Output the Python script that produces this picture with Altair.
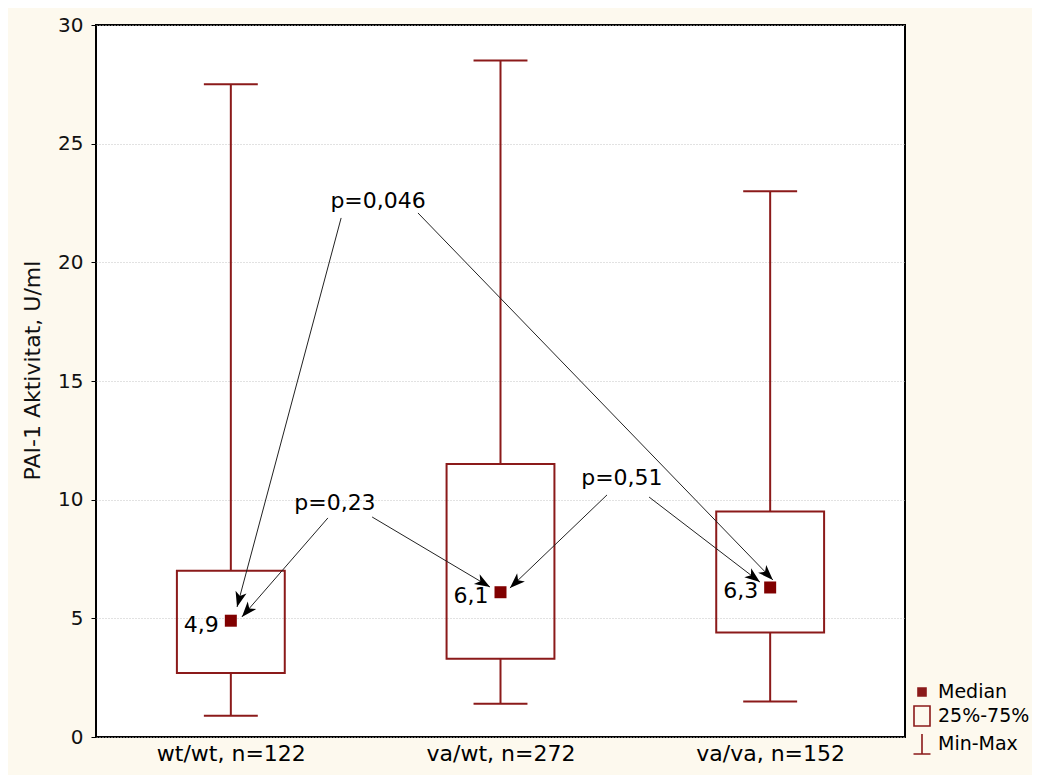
import math
import altair as alt
import pandas as pd

# ---------------- data ----------------
groups = ["wt/wt, n=122", "va/wt, n=272", "va/va, n=152"]
pos = [0.5, 1.5, 2.5]
medians = [4.9, 6.1, 6.3]
q1 = [2.7, 3.3, 4.4]
q3 = [7.0, 11.5, 9.5]
mins = [0.9, 1.4, 1.5]
maxs = [27.5, 28.5, 23.0]

p_labels = ["p=0,046", "p=0,23", "p=0,51"]
p_x = [1.046, 0.886, 1.950]
p_y = [22.6, 9.86, 10.91]

arrow_x0 = [0.909, 1.194, 0.860, 1.024, 1.895, 2.051]
arrow_y0 = [21.87, 22.08, 9.23, 9.27, 10.20, 10.11]
arrow_x1 = [0.523, 2.510, 0.541, 1.461, 1.535, 2.462]
arrow_y1 = [5.48, 6.62, 5.06, 6.32, 6.28, 6.53]

legend_items = ["Median", "25%-75%", "Min-Max"]

# ---------------- style ----------------
W, H = 809, 712
RED = "#8B1A1A"
MED = "#800000"
FONT = "DejaVu Sans"
BOX_HALF = 0.2
CAP_HALF = 0.1

xscale = alt.Scale(domain=[0, 3], nice=False, zero=False)
yscale = alt.Scale(domain=[0, 30], nice=False)

label_arr = "[" + ",".join("'" + g + "'" for g in groups) + "]"
xaxis = alt.Axis(values=pos, labelExpr=label_arr + "[floor(datum.value)]", title=None,
                 grid=False, ticks=False, domain=False, labelFontSize=22, labelPadding=6,
                 labelColor="black", labelFont=FONT)
yaxis = alt.Axis(values=[0, 5, 10, 15, 20, 25, 30], title="PAI-1 Aktivitat, U/ml", grid=True,
                 gridDash=[1, 2], gridColor="#c4c4c4", gridWidth=1, tickSize=5, tickColor="black",
                 domain=False, labelFontSize=20, labelPadding=8, labelColor="#111", labelFont=FONT,
                 titleFontSize=22, titleFontWeight="normal", titlePadding=13, titleFont=FONT,
                 titleColor="#111", titleY=345)


def X(f, **kw):
    return alt.X(f, type="quantitative", scale=xscale, axis=xaxis, **kw)


def Y(f, **kw):
    return alt.Y(f, type="quantitative", scale=yscale, axis=yaxis, **kw)


box_df = pd.DataFrame({
    "group": groups, "pos": pos, "med": medians, "q1": q1, "q3": q3, "mn": mins, "mx": maxs,
})
box_df["xl"] = box_df["pos"] - BOX_HALF
box_df["xr"] = box_df["pos"] + BOX_HALF
box_df["cl"] = box_df["pos"] - CAP_HALF
box_df["cr"] = box_df["pos"] + CAP_HALF
box_df["lab"] = [f"{m:.1f}".replace(".", ",") for m in medians]

boxes = alt.Chart(box_df).mark_rect(fillOpacity=0, stroke=RED, strokeWidth=2).encode(
    x=X("xl"), x2="xr", y=Y("q1"), y2="q3")
wl = alt.Chart(box_df).mark_rule(color=RED, strokeWidth=2).encode(x=X("pos"), y=Y("mn"), y2="q1")
wh = alt.Chart(box_df).mark_rule(color=RED, strokeWidth=2).encode(x=X("pos"), y=Y("q3"), y2="mx")
cl = alt.Chart(box_df).mark_rule(color=RED, strokeWidth=2).encode(x=X("cl"), x2="cr", y=Y("mn"))
ch = alt.Chart(box_df).mark_rule(color=RED, strokeWidth=2).encode(x=X("cl"), x2="cr", y=Y("mx"))

# arrows
arr = pd.DataFrame({"x0": arrow_x0, "y0": arrow_y0, "x1": arrow_x1, "y1": arrow_y1})
ang = []
for a, b, c, d in zip(arrow_x0, arrow_y0, arrow_x1, arrow_y1):
    dx = (c - a) * W / 3.0
    dy = -(d - b) * H / 30.0
    ang.append(math.degrees(math.atan2(dx, -dy)) % 360)
arr["ang"] = ang

arrow_lines = alt.Chart(arr).mark_rule(color="#222222", strokeWidth=1).encode(
    x=X("x0"), y=Y("y0"), x2="x1", y2="y1")
head_path = "M0,0L-0.55,1.5L0,1.1L0.55,1.5Z"
arrow_heads = alt.Chart(arr).mark_point(shape=head_path, filled=True, color="black", opacity=1,
                                         size=420).encode(
    x=X("x1"), y=Y("y1"), angle=alt.Angle("ang:Q", scale=None))

med_pts = alt.Chart(box_df).mark_square(size=144, color=MED, opacity=1).encode(x=X("pos"), y=Y("med"))
med_txt = alt.Chart(box_df).mark_text(align="right", baseline="middle", dx=-12, dy=4, fontSize=22,
                                      font=FONT, color="black").encode(
    x=X("pos"), y=Y("med"), text="lab:N")

p_df = pd.DataFrame({"lab": p_labels, "x": p_x, "y": p_y})
p_txt = alt.Chart(p_df).mark_text(align="center", baseline="middle", fontSize=22, font=FONT,
                                  color="black").encode(x=X("x"), y=Y("y"), text="lab:N")

# legend (dummy points clipped away, legend only)
leg_df = pd.DataFrame({"item": legend_items, "x": [1.5] * 3, "y": [-50.0] * 3})
sq_path = ("M-0.4,-0.4H0.4V0.4H-0.4Z M-0.26,-0.26H0.26V0.26H-0.26Z "
           "M-0.12,-0.12H0.12V0.12H-0.12Z M-0.03,-0.03H0.03V0.03H-0.03Z")
box_path = "M-0.8,-1H0.8V1H-0.8Z"
wh_path = "M0,-1V1M-0.85,1H0.85"
leg = alt.Legend(title=None, orient="none", legendX=815, legendY=656, symbolSize=400,
                 labelFontSize=19, labelFont=FONT, labelColor="black", rowPadding=0,
                 labelOffset=5, padding=0, symbolStrokeWidth=1.6, symbolStrokeColor=RED,
                 symbolFillColor="transparent")
legend_layer = alt.Chart(leg_df).mark_point(clip=True, stroke=RED, strokeWidth=1.6, opacity=1,
                                            filled=False).encode(
    x=X("x"), y=Y("y"),
    shape=alt.Shape("item:N", scale=alt.Scale(domain=legend_items, range=[sq_path, box_path, wh_path]),
                    legend=leg),
)

chart = alt.layer(
    boxes, wl, wh, cl, ch, arrow_lines, arrow_heads, med_pts, med_txt, p_txt, legend_layer
).properties(
    width=W, height=H,
    autosize=alt.AutoSizeParams(type="none"),
    padding={"left": 88, "top": 17, "right": 127, "bottom": 38},
    background="#FDF9EE",
).configure_view(
    fill="white", stroke="black", strokeWidth=2
)

chart.save("out.html", embed_options={"renderer": "svg", "actions": False})
